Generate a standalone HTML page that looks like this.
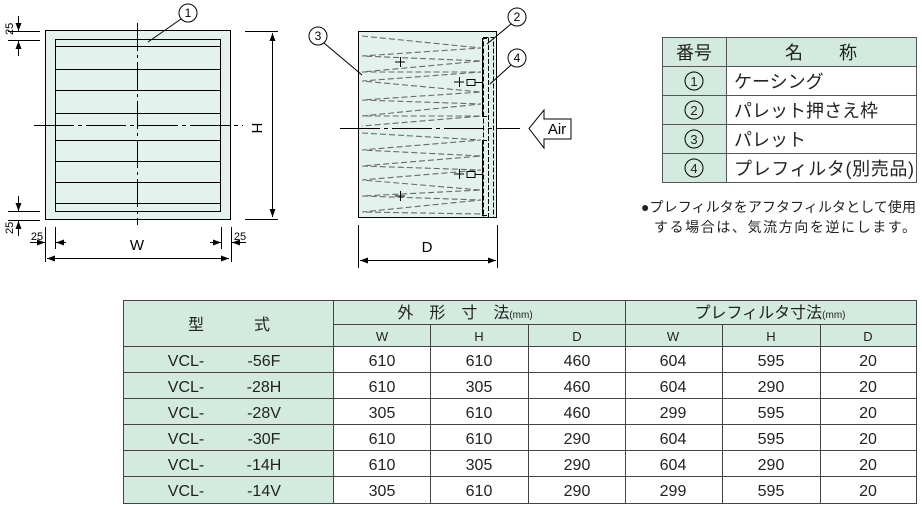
<!DOCTYPE html>
<html><head><meta charset="utf-8"><style>
body{margin:0;background:#fff;width:922px;height:505px;overflow:hidden;font-family:"Liberation Sans","Noto Sans CJK JP",sans-serif}
svg{position:absolute;left:0;top:0}
</style></head><body>
<svg width="922" height="505" viewBox="0 0 922 505" font-family="Liberation Sans, Noto Sans CJK JP, sans-serif">
<defs>
<marker id="a" markerWidth="8" markerHeight="6" refX="8" refY="3" orient="auto-start-reverse" markerUnits="userSpaceOnUse"><path d="M0,0 L8,3 L0,6z" fill="#000"/></marker>
</defs>
<g stroke="#000" stroke-width="1" fill="none">
<rect x="45.5" y="30.5" width="185" height="189" fill="#e3f2ec"/>
<rect x="55.5" y="39.5" width="165" height="172"/>
<path d="M55 46.5H221M55 69.5H221M55 90.5H221M55 113.5H221M55 140.5H221M55 161.5H221M55 182.5H221M55 203.5H221"/>
<path d="M137.5 23V225" stroke-dasharray="28,4,3,4"/>
<path d="M34 125.5H243" stroke-dasharray="40,4,4,4"/>
<path d="M245 31.5H278M245 219.5H278"/>
<path d="M272.5 33V217" marker-start="url(#a)" marker-end="url(#a)"/>
<path d="M8 31.5H40M8 40.5H40M8 211.5H40M8 220.5H40"/>
<path d="M18.5 16V31" marker-end="url(#a)"/><path d="M18.5 56V41" marker-end="url(#a)"/>
<path d="M18.5 196V211" marker-end="url(#a)"/><path d="M18.5 236V221" marker-end="url(#a)"/>
<path d="M45.5 227V262M55.5 227V249M221.5 227V249M231.5 227V262"/>
<path d="M30 242.5H45" marker-end="url(#a)"/><path d="M66 242.5H56" marker-end="url(#a)"/>
<path d="M210 242.5H221" marker-end="url(#a)"/><path d="M246 242.5H232" marker-end="url(#a)"/>
<path d="M47 258.5H229" marker-start="url(#a)" marker-end="url(#a)"/>
<circle cx="188" cy="13" r="9" fill="#fff"/>
<path d="M181 19L148 42"/>
<rect x="358.5" y="31.5" width="138" height="186" fill="#e3f2ec"/>
<g stroke="#6a6a6a" stroke-dasharray="6,3" stroke-width="1.1">
<path d="M362 36L481 48L362 56L481 61L362 72L481 72L362 81L481 92L362 100L481 104L362 116L481 116L362 126"/>
<path d="M362 133L481 140L362 150L481 156L362 166L481 170L362 180L481 190L362 196L481 200L362 212L481 214"/>
</g>
<rect x="483.5" y="37.5" width="10" height="180" stroke-dasharray="5,2"/>
<path d="M488.5 38V217" stroke-dasharray="5,2"/>
<path d="M487 38.5H482.5V116.5H487M487 140.5H482.5V215.5H487"/>
<path d="M340 128.5H520" stroke-dasharray="40,4,4,4"/>
<path d="M395 62H405M400.5 57V67M395 196H405M400.5 191V201M454 82H464M459.5 77V87M454 174H464M459.5 169V179"/>
<path d="M467 79.5h8v6h-8zM475 82.5h7M467 171.5h8v6h-8zM475 174.5h7"/>
<path d="M358.5 225V268M497.5 225V268"/>
<path d="M360 260.5H496" marker-start="url(#a)" marker-end="url(#a)"/>
<path d="M529 128.5L544 110V119H571V139H544V148Z" fill="#fff"/>
<circle cx="318" cy="36" r="9" fill="#fff"/><path d="M324 43L362 75"/>
<circle cx="517" cy="17" r="9" fill="#fff"/><path d="M511 24L487 44"/>
<circle cx="517" cy="58" r="9" fill="#fff"/><path d="M511 65L490 84"/>
</g>
<g font-size="12" fill="#000" text-anchor="middle">
<text x="188" y="17">1</text><text x="318" y="40">3</text><text x="517" y="21">2</text><text x="517" y="62">4</text>
<text x="137" y="250" font-size="15">W</text>
<text x="427" y="252" font-size="15">D</text>
<text transform="translate(252,128) rotate(90)" font-size="15">H</text>
<text x="37" y="240" font-size="11">25</text><text x="240" y="240" font-size="11">25</text>
<text transform="translate(13,35) rotate(-90)" font-size="11" text-anchor="start">25</text>
<text transform="translate(13,234) rotate(-90)" font-size="11" text-anchor="start">25</text>
<text x="557" y="134" font-size="15">Air</text>
</g>
<g stroke="#555" stroke-width="1">
<rect x="662.5" y="37.5" width="254" height="145" fill="#fff"/>
<rect x="662.5" y="37.5" width="64" height="145" fill="#d3eadf"/>
<rect x="726.5" y="37.5" width="190" height="29" fill="#d3eadf"/>
<path d="M662 66.5H917M662 95.5H917M662 124.5H917M662 153.5H917M726.5 37V183"/>
</g>
<g fill="none" stroke="#000"><circle cx="694" cy="81" r="9"/><circle cx="694" cy="110" r="9"/><circle cx="694" cy="139" r="9"/><circle cx="694" cy="168" r="9"/></g>
<g font-size="18" fill="#222">
<text x="694" y="59" text-anchor="middle">番号</text>
<text x="821" y="59" text-anchor="middle">名　　称</text>
<g font-size="13" text-anchor="middle"><text x="694" y="86">1</text><text x="694" y="115">2</text><text x="694" y="144">3</text><text x="694" y="173">4</text></g>
<text x="734" y="88">ケーシング</text>
<text x="734" y="117">パレット押さえ枠</text>
<text x="734" y="146">パレット</text>
<text x="734" y="175" textLength="180">プレフィルタ(別売品)</text>
</g>
<g font-size="14" fill="#222">
<text x="641" y="212" textLength="275">●プレフィルタをアフタフィルタとして使用</text>
<text x="654" y="232" textLength="262">する場合は、気流方向を逆にします。</text>
</g>
<g stroke="#444" stroke-width="1">
<rect x="123.5" y="300.5" width="793" height="203" fill="#fff"/>
<rect x="123.5" y="300.5" width="210" height="203" fill="#d3eadf"/>
<rect x="333.5" y="300.5" width="583" height="46" fill="#d3eadf"/>
<path d="M333 324.5H917M123 346.5H917M123 372.5H917M123 398.5H917M123 424.5H917M123 450.5H917M123 476.5H917"/>
<path d="M333.5 300V504M625.5 300V504M430.5 324V504M528.5 324V504M722.5 324V504M820.5 324V504"/>
</g>
<g fill="#222" text-anchor="middle">
<text x="196" y="330" font-size="16">型</text><text x="262" y="330" font-size="16">式</text>
<text x="465" y="318" font-size="16">外　形　寸　法<tspan font-size="10">(mm)</tspan></text>
<text x="770" y="318" font-size="16">プレフィルタ寸法<tspan font-size="10">(mm)</tspan></text>
<g font-size="13"><text x="382" y="341">W</text><text x="479" y="341">H</text><text x="577" y="341">D</text><text x="673" y="341">W</text><text x="771" y="341">H</text><text x="868" y="341">D</text></g>
<g font-size="16">
<text x="186" y="366">VCL-</text><text x="264" y="366">-56F</text>
<text x="186" y="392">VCL-</text><text x="264" y="392">-28H</text>
<text x="186" y="418">VCL-</text><text x="264" y="418">-28V</text>
<text x="186" y="444">VCL-</text><text x="264" y="444">-30F</text>
<text x="186" y="470">VCL-</text><text x="264" y="470">-14H</text>
<text x="186" y="496">VCL-</text><text x="264" y="496">-14V</text>
<text x="382" y="366">610</text><text x="479" y="366">610</text><text x="577" y="366">460</text><text x="673" y="366">604</text><text x="771" y="366">595</text><text x="868" y="366">20</text>
<text x="382" y="392">610</text><text x="479" y="392">305</text><text x="577" y="392">460</text><text x="673" y="392">604</text><text x="771" y="392">290</text><text x="868" y="392">20</text>
<text x="382" y="418">305</text><text x="479" y="418">610</text><text x="577" y="418">460</text><text x="673" y="418">299</text><text x="771" y="418">595</text><text x="868" y="418">20</text>
<text x="382" y="444">610</text><text x="479" y="444">610</text><text x="577" y="444">290</text><text x="673" y="444">604</text><text x="771" y="444">595</text><text x="868" y="444">20</text>
<text x="382" y="470">610</text><text x="479" y="470">305</text><text x="577" y="470">290</text><text x="673" y="470">604</text><text x="771" y="470">290</text><text x="868" y="470">20</text>
<text x="382" y="496">305</text><text x="479" y="496">610</text><text x="577" y="496">290</text><text x="673" y="496">299</text><text x="771" y="496">595</text><text x="868" y="496">20</text>
</g>
</g>
</svg>
</body></html>
